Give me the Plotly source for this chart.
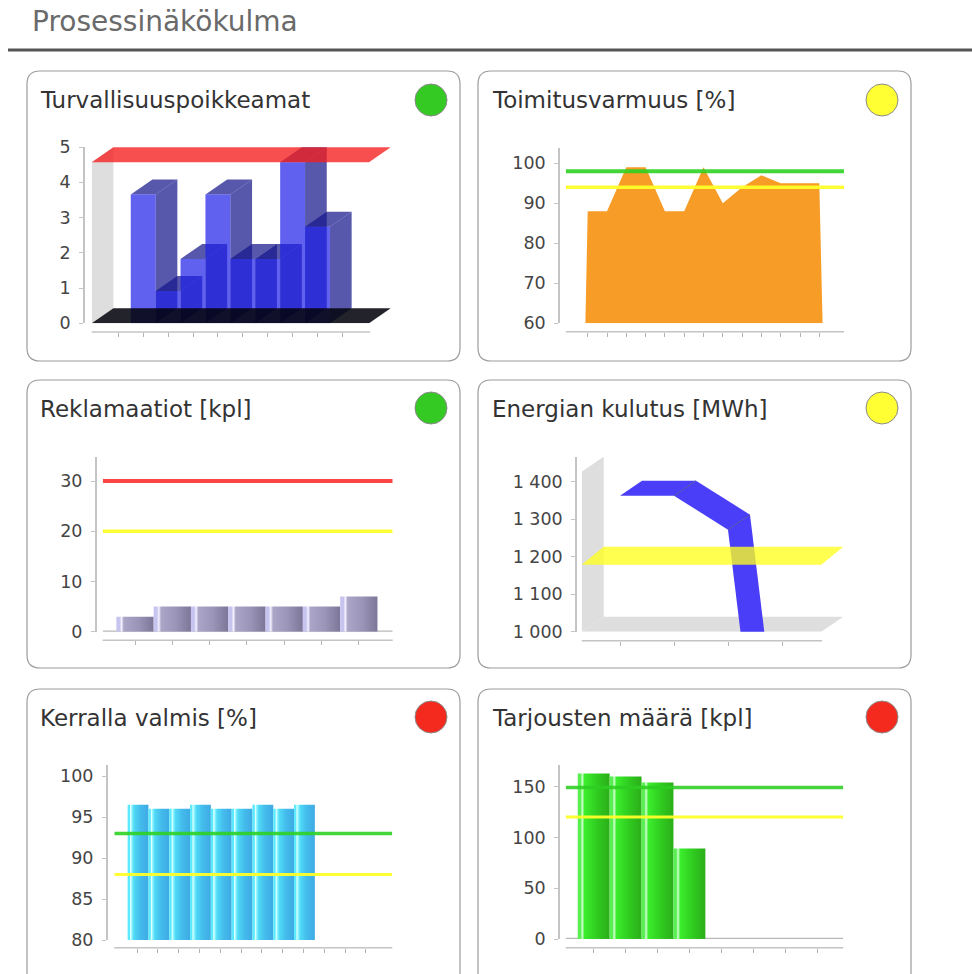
import plotly.graph_objects as go

W, H = 972, 974

# ---------- data ----------
page_title = "Prosessinäkökulma"
titles = ["Turvallisuuspoikkeamat", "Toimitusvarmuus [%]", "Reklamaatiot [kpl]",
          "Energian kulutus [MWh]", "Kerralla valmis [%]", "Tarjousten määrä [kpl]"]
status = ["#35C924", "#FFFF33", "#35C924", "#FFFF33", "#F52A1E", "#F52A1E"]

safety_values = [None, 4, 1, 2, 4, 2, 2, 5, 3, None]
safety_limit = 5
safety_ticks = [0, 1, 2, 3, 4, 5]

delivery_values = [88, 88, 99, 99, 88, 88, 99, 90, 94, 97, 95, 95, 95]
delivery_green, delivery_yellow = 98, 94
delivery_ticks = [60, 70, 80, 90, 100]

complaint_values = [3, 5, 5, 5, 5, 5, 7]
complaint_red, complaint_yellow = 30, 20
complaint_ticks = [0, 10, 20, 30]

energy_values = [1400, 1400, 1300, 0]
energy_yellow = 1197
energy_ticks = [1000, 1100, 1200, 1300, 1400]
energy_labels = ["1 000", "1 100", "1 200", "1 300", "1 400"]

firsttime_values = [96.5, 96, 96, 96.5, 96, 96, 96.5, 96, 96.5, None, None, None]
firsttime_green, firsttime_yellow = 93, 88
firsttime_ticks = [80, 85, 90, 95, 100]

offer_values = [163, 160, 154, 89, None, None, None, None]
offer_green, offer_yellow = 149, 120
offer_ticks = [0, 50, 100, 150]

# ---------- style ----------
FONT = "DejaVu Sans"
GREEN, YELLOW, RED = "rgba(45,210,35,0.9)", "rgba(255,255,40,0.95)", "rgba(250,50,50,0.9)"
AX = "#c4c4c4"
CYAN = [[0, "#5AEAFF"], [0.09, "#5AEAFF"], [0.14, "#E8FFFF"], [0.2, "#8FF5FF"], [0.3, "#50DAF7"], [0.6, "#44BCEC"], [1, "#3EAAE4"]]
LIME = [[0, "#58F050"], [0.09, "#58F050"], [0.14, "#D8FFD8"], [0.21, "#3CEE2C"], [0.6, "#30CC20"], [1, "#2BAE1A"]]
LILAC = [[0, "#C8C4F0"], [0.09, "#C8C4F0"], [0.14, "#F4F2FF"], [0.2, "#ABA6C8"], [0.6, "#9A94B8"], [1, "#7C7698"]]


def fx(p): return p / W
def fy(p): return 1 - p / H


fig = go.Figure()
shapes, annotations = [], []


def axes(n, left, right, bottom, top, cat1, step, ymin, ppu, ypos_axis, xaxis_y, ticks, labels=None,
         tick_scale=1.0, ncat=10, xline_end=None):
    """Set up one panel's axes from pixel placement; returns x range and y range."""
    xr = [1 + (left - cat1) / step, 1 + (right - cat1) / step]
    yr = [ymin, ymin + (bottom - top) / ppu]
    sfx = "" if n == 1 else str(n)
    fig.layout["xaxis" + sfx] = dict(
        domain=[fx(left), fx(right)], range=xr, anchor="free", position=fy(xaxis_y), showgrid=False,
        zeroline=False, showline=False, tickmode="array", tickvals=list(range(1, ncat + 1)),
        showticklabels=False, ticks="outside", ticklen=4, tickcolor="#b4b4b4", tickwidth=1, fixedrange=True)
    fig.layout["yaxis" + sfx] = dict(
        domain=[fy(bottom), fy(top)], range=yr, anchor="free", position=fx(ypos_axis), showgrid=False,
        zeroline=False, showline=True, linecolor=AX, linewidth=1.5, tickmode="array",
        tickvals=[ymin + (t - ymin) * tick_scale for t in ticks],
        ticktext=labels or [str(t) for t in ticks], ticks="outside", ticklen=4, tickcolor=AX,
        ticklabelstandoff=5, tickfont=dict(family=FONT, size=17.5, color="#454545"), fixedrange=True)
    shapes.append(dict(type="line", xref="paper", yref="paper", x0=fx(left), x1=fx(xline_end or right),
                       y0=fy(xaxis_y), y1=fy(xaxis_y), line=dict(color=AX, width=1.5)))
    return xr, yr


def poly(n, xs, ys, color=None, gradient=None):
    kw = dict(fillgradient=dict(type="horizontal", colorscale=gradient)) if gradient else dict(fillcolor=color)
    fig.add_trace(go.Scatter(x=xs, y=ys, mode="lines", fill="toself", line=dict(width=0), hoverinfo="skip",
                             showlegend=False, xaxis="x" + ("" if n == 1 else str(n)),
                             yaxis="y" + ("" if n == 1 else str(n)), **kw))


def hline(n, xr, value, color, width):
    fig.add_trace(go.Scatter(x=xr, y=[value, value], mode="lines", line=dict(color=color, width=width),
                             hoverinfo="skip", showlegend=False, xaxis="x" + ("" if n == 1 else str(n)),
                             yaxis="y" + ("" if n == 1 else str(n))))


def bars(n, values, grad, base, shift=0.0):
    for i, v in enumerate(values):
        if v is None:
            continue
        c = i + 1 + shift
        poly(n, [c - .5, c + .5, c + .5, c - .5, c - .5], [base, base, v, v, base], gradient=grad)


# ---------- cards ----------
cards = [(27, 460, 71, 361), (478, 911, 71, 361), (27, 460, 380, 668), (478, 911, 380, 668),
         (27, 460, 689, 1000), (478, 911, 689, 1000)]
for (x0, x1, y0, y1) in cards:
    r = 13
    path = (f"M {fx(x0 + r)} {fy(y0)} L {fx(x1 - r)} {fy(y0)} Q {fx(x1)} {fy(y0)} {fx(x1)} {fy(y0 + r)} "
            f"L {fx(x1)} {fy(y1 - r)} Q {fx(x1)} {fy(y1)} {fx(x1 - r)} {fy(y1)} L {fx(x0 + r)} {fy(y1)} "
            f"Q {fx(x0)} {fy(y1)} {fx(x0)} {fy(y1 - r)} L {fx(x0)} {fy(y0 + r)} Q {fx(x0)} {fy(y0)} {fx(x0 + r)} {fy(y0)} Z")
    shapes.append(dict(type="path", xref="paper", yref="paper", path=path, layer="below",
                       line=dict(color="#9c9c9c", width=1.2), fillcolor="white"))

title_pos = [(38, 100), (490, 100), (38, 409), (490, 409), (38, 718), (490, 718)]
status_pos = [(431, 100), (882, 100), (431, 408), (882, 408), (431, 717), (882, 717)]
for t, (x, y), c, (cx, cy) in zip(titles, title_pos, status, status_pos):
    annotations.append(dict(text=t, xref="paper", yref="paper", x=fx(x), y=fy(y), xanchor="left", yanchor="middle",
                            showarrow=False, font=dict(family=FONT, size=23, color="#333333")))
    shapes.append(dict(type="circle", xref="paper", yref="paper", x0=fx(cx - 16), x1=fx(cx + 16),
                       y0=fy(cy - 16), y1=fy(cy + 16), fillcolor=c, line=dict(color="#8a8a8a", width=1)))

annotations.append(dict(text=page_title, xref="paper", yref="paper", x=fx(30), y=fy(22), xanchor="left",
                        yanchor="middle", showarrow=False, font=dict(family=FONT, size=28, color="#6a6a6a")))
shapes.append(dict(type="line", xref="paper", yref="paper", x0=fx(8), x1=1, y0=fy(50), y1=fy(50),
                   line=dict(color="#555555", width=3)))

# ---------- panel 1: 3D bars ----------
n = 1
xr, yr = axes(n, 91.7, 390.7, 323.3, 147, 118.3, 24.9, 0, 32.2, 84, 332, safety_ticks,
              tick_scale=(323.3 - 147) / 32.2 / 5, ncat=10, xline_end=370)
dx, dy = 21.7 / 24.9, 15 / 32.2
fr = xr[1] - dx
top = safety_limit
poly(n, [xr[0], xr[0] + dx, xr[0] + dx, xr[0], xr[0]], [0, dy, top + dy, top, 0], "#dedede")
for i, v in enumerate(safety_values):
    if v is None:
        continue
    c = i + 1
    L, R = c - .5, c + .5
    poly(n, [R, R + dx, R + dx, R, R], [0, dy, v + dy, v, 0], "rgba(22,24,140,0.72)")
    poly(n, [L, R, R + dx, L + dx, L], [v, v, v + dy, v + dy, v], "rgba(22,24,140,0.72)")
    poly(n, [L, R, R, L, L], [0, 0, v, v, 0], "rgba(30,30,232,0.7)")
poly(n, [xr[0], fr, xr[1], xr[0] + dx, xr[0]], [0, 0, dy, dy, 0], "rgba(5,5,15,0.88)")
poly(n, [xr[0], fr, xr[1], xr[0] + dx, xr[0]], [top, top, top + dy, top + dy, top], "rgba(245,30,30,0.78)")

# ---------- panel 2: area ----------
n = 2
xr, yr = axes(n, 566, 844, 323.3, 148, 587.7, 19.3, 60, 4.0, 559, 331.7, delivery_ticks, ncat=13)
cats = list(range(1, len(delivery_values) + 1))
poly(n, [cats[0] - .12] + cats + [cats[-1] + .17, cats[0] - .12],
     [60] + delivery_values + [60, 60], "#F79C26")
hline(n, xr, delivery_green, GREEN, 4)
hline(n, xr, delivery_yellow, YELLOW, 3.5)

# ---------- panel 3: gradient bars ----------
n = 3
xr, yr = axes(n, 102.7, 392.7, 631.7, 456.7, 135, 37.3, 0, 5.02, 95.7, 640.3, complaint_ticks, ncat=7)
hline(n, xr, 0, "#b8b8b8", 2.5)
bars(n, complaint_values, LILAC, 0)
hline(n, xr, complaint_red, RED, 4)
hline(n, xr, complaint_yellow, YELLOW, 3.5)

# ---------- panel 4: 3D ribbon ----------
n = 4
xr, yr = axes(n, 581.7, 843.3, 631.7, 456.7, 620, 54, 1000, 0.34, 576, 640.7, energy_ticks, energy_labels,
              tick_scale=37.5 / 34, ncat=4, xline_end=822)
dx, dy = 22 / 54, 15 / 0.34
fr = xr[1] - dx
ymax = yr[1] - dy
poly(n, [xr[0], xr[0] + dx, xr[0] + dx, xr[0], xr[0]], [1000, 1000 + dy, ymax + dy, ymax, 1000], "#dedede")
poly(n, [xr[0], fr, xr[1], xr[0] + dx, xr[0]], [1000, 1000, 1000 + dy, 1000 + dy, 1000], "#dedede")
for i in range(len(energy_values) - 1):
    a, b = energy_values[i], energy_values[i + 1]
    xa, xb = i + 1, i + 2
    poly(n, [xa, xb, xb + dx, xa + dx, xa], [a, b, b + dy, a + dy, a], "#4A3EF8")
for i in range(1, len(energy_values) - 1):
    v = energy_values[i]
    fig.add_trace(go.Scatter(x=[i + 1, i + 1 + dx], y=[v, v + dy], mode="lines",
                             line=dict(color="rgba(80,80,150,0.8)", width=1), hoverinfo="skip",
                             showlegend=False, xaxis="x4", yaxis="y4"))
plane_dy = 18 / 0.34
poly(n, [xr[0], fr, xr[1], xr[0] + dx, xr[0]],
     [energy_yellow, energy_yellow, energy_yellow + plane_dy, energy_yellow + plane_dy, energy_yellow],
     "rgba(255,255,30,0.78)")

# ---------- panel 5: gradient bars ----------
n = 5
xr, yr = axes(n, 114.3, 392.3, 940, 765, 137, 20.8, 80, 8.2, 106.7, 947.7, firsttime_ticks, ncat=12)
bars(n, firsttime_values, CYAN, 80, shift=0.05)
hline(n, xr, firsttime_green, GREEN, 3.5)
hline(n, xr, firsttime_yellow, YELLOW, 3)

# ---------- panel 6: gradient bars ----------
n = 6
xr, yr = axes(n, 565.7, 843.3, 939, 765, 593.7, 31.9, 0, 1.016, 559, 947.7, offer_ticks, ncat=8)
hline(n, xr, 0, "#b8b8b8", 2.5)
bars(n, offer_values, LIME, 0)
hline(n, xr, offer_green, "rgba(45,205,35,0.88)", 3.5)
hline(n, xr, offer_yellow, YELLOW, 3)

fig.update_layout(width=W, height=H, margin=dict(l=0, r=0, t=0, b=0, autoexpand=False),
                  paper_bgcolor="white", plot_bgcolor="rgba(0,0,0,0)", showlegend=False,
                  shapes=shapes, annotations=annotations)
fig.write_html("out.html", config={"displayModeBar": False},
               post_script="document.body.style.margin='0';document.body.style.overflow='hidden';")
